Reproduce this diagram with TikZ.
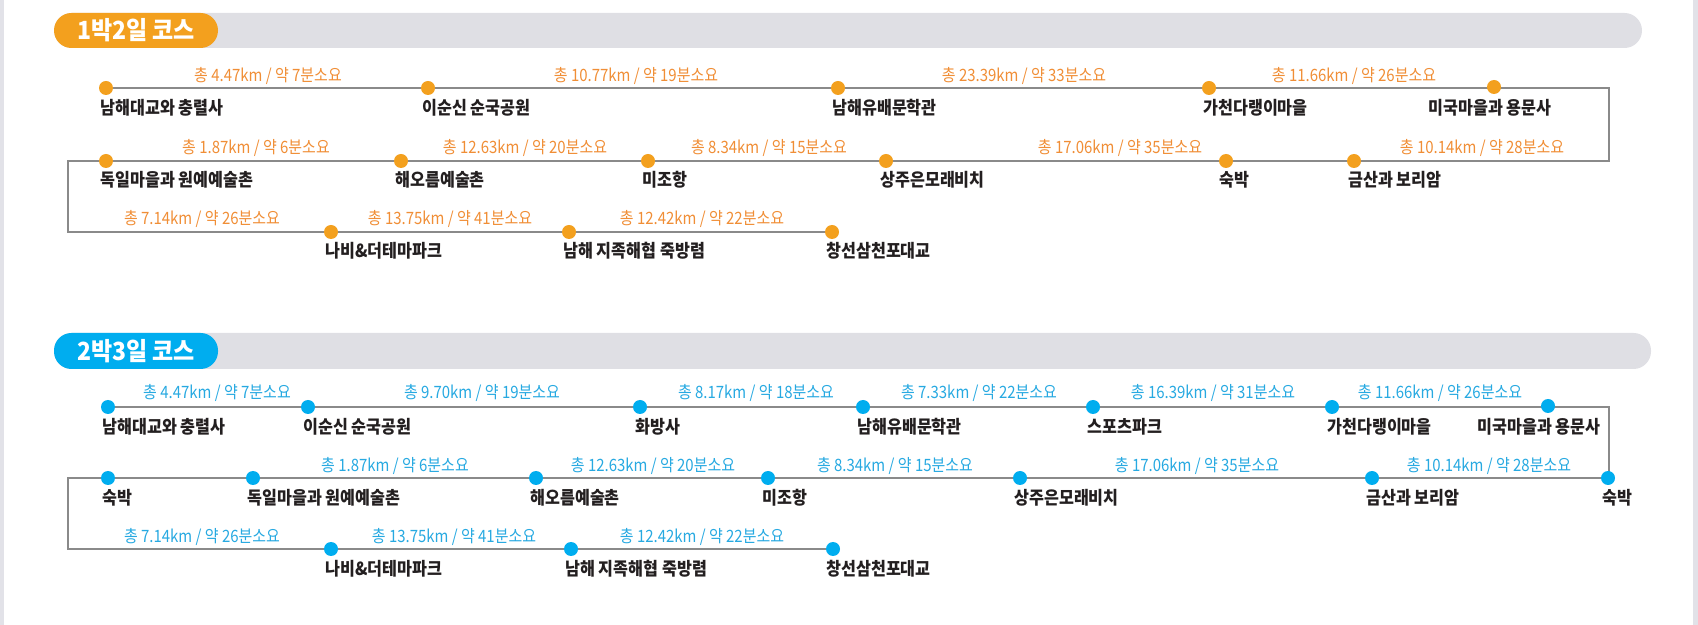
\documentclass[tikz,border=0pt]{standalone}
\usepackage{fontspec}
\newfontfamily\krn[FakeStretch=0.9]{Noto Sans CJK KR}
\newfontfamily\krl[FakeStretch=0.88]{Noto Sans CJK KR}
\newfontfamily\krh[FakeStretch=0.92]{Noto Sans CJK KR}
\usetikzlibrary{backgrounds}
\definecolor{ordot}{HTML}{F3A01E}
\definecolor{ortxt}{HTML}{F08E36}
\definecolor{bldot}{HTML}{00ADEF}
\definecolor{bltxt}{HTML}{27A9E1}
\definecolor{barg}{HTML}{DFDFE4}
\definecolor{lineg}{HTML}{8A8A8A}
\definecolor{namec}{HTML}{231F20}
\definecolor{stripg}{HTML}{E2E2E8}
\tikzset{
  dotA/.style={circle,fill=ordot,inner sep=0pt,minimum size=7pt},
  dotB/.style={circle,fill=bldot,inner sep=0pt,minimum size=7pt},
  nm/.style={inner sep=0pt,anchor=west,text=namec,font=\krn\bfseries\fontsize{9pt}{10pt}\selectfont},
  nmc/.style={nm,anchor=center},
  dlA/.style={inner sep=0pt,text=ortxt,font=\krl\fontsize{8.5pt}{10pt}\selectfont},
  dlB/.style={dlA,text=bltxt},
  conn/.style={draw=lineg,line width=1pt},
  pillA/.style={fill=ordot,rounded corners=8.75pt},
  pillB/.style={fill=bldot,rounded corners=8.75pt},
  bar/.style={fill=barg,rounded corners=8.75pt},
  ptxt/.style={inner sep=0pt,text=white,font=\krh\bfseries\fontsize{12.5pt}{14pt}\selectfont}
}
\begin{document}
\begin{tikzpicture}[x=0.5pt,y=-0.5pt]
\useasboundingbox (0,0) rectangle (1698,625);
\fill[stripg] (0,0) rectangle (3.5,625);
\fill[stripg] (1693,0) rectangle (1698,625);

% ===== Section 1 header =====
\path[bar] (54,13) rectangle (1642,48);
\path[pillA] (54,13) rectangle (218,48);
\node[ptxt] (h1) at (136,30.5) {1박2일 코스};

% ===== Section 1 dots =====
\node[dotA] (a1) at (106,88) {};
\node[dotA] (a2) at (428,88) {};
\node[dotA] (a3) at (838,88) {};
\node[dotA] (a4) at (1209,88) {};
\node[dotA] (a5) at (1494,87) {};
\coordinate (aR1) at (1609,88);
\coordinate (aR2) at (1609,161);
\node[dotA] (b1) at (106,161) {};
\node[dotA] (b2) at (401,161) {};
\node[dotA] (b3) at (648,161) {};
\node[dotA] (b4) at (886,161) {};
\node[dotA] (b5) at (1226,161) {};
\node[dotA] (b6) at (1354,161) {};
\coordinate (aL2) at (68,161);
\coordinate (aL3) at (68,232);
\node[dotA] (c1) at (331,232) {};
\node[dotA] (c2) at (569,232) {};
\node[dotA] (c3) at (832,232) {};

\begin{scope}[on background layer]
\draw[conn] (a1.center) -- (a2.center) -- (a3.center) -- (a4.center) -- (a5.center |- aR1) -- (aR1) -- (aR2)
  -- (b6.center) -- (b5.center) -- (b4.center) -- (b3.center) -- (b2.center) -- (b1.center) -- (aL2) -- (aL3)
  -- (c1.center) -- (c2.center) -- (c3.center);
\end{scope}

% distance labels s1
\node[dlA] (da1) at (268,76) {총 4.47km / 약 7분소요};
\node[dlA] (da2) at (636,76) {총 10.77km / 약 19분소요};
\node[dlA] (da3) at (1024,76) {총 23.39km / 약 33분소요};
\node[dlA] (da4) at (1354,76) {총 11.66km / 약 26분소요};
\node[dlA] (db1) at (256,148) {총 1.87km / 약 6분소요};
\node[dlA] (db2) at (525,148) {총 12.63km / 약 20분소요};
\node[dlA] (db3) at (769,148) {총 8.34km / 약 15분소요};
\node[dlA] (db4) at (1120,148) {총 17.06km / 약 35분소요};
\node[dlA] (db5) at (1482,148) {총 10.14km / 약 28분소요};
\node[dlA] (dc1) at (202,219) {총 7.14km / 약 26분소요};
\node[dlA] (dc2) at (450,219) {총 13.75km / 약 41분소요};
\node[dlA] (dc3) at (702,219) {총 12.42km / 약 22분소요};

% names s1
\node[nm] (na1) at (100,108) {남해대교와 충렬사};
\node[nm] (na2) at (422,108) {이순신 순국공원};
\node[nm] (na3) at (832,108) {남해유배문학관};
\node[nm] (na4) at (1203,108) {가천다랭이마을};
\node[nmc] (na5) at (1490,108) {미국마을과 용문사};
\node[nm] (nb1) at (100,180) {독일마을과 원예예술촌};
\node[nm] (nb2) at (395,180) {해오름예술촌};
\node[nm] (nb3) at (642,180) {미조항};
\node[nm] (nb4) at (880,180) {상주은모래비치};
\node[nm] (nb5) at (1219,180) {숙박};
\node[nm] (nb6) at (1348,180) {금산과 보리암};
\node[nm] (nc1) at (325,251) {나비\&더테마파크};
\node[nm] (nc2) at (563,251) {남해 지족해협 죽방렴};
\node[nm] (nc3) at (826,251) {창선삼천포대교};

% ===== Section 2 header =====
\path[bar] (54,333) rectangle (1651,369);
\path[pillB] (54,333) rectangle (218,369);
\node[ptxt] (h2) at (136,351) {2박3일 코스};

% ===== Section 2 dots =====
\node[dotB] (p1) at (108,407) {};
\node[dotB] (p2) at (308,407) {};
\node[dotB] (p3) at (640,407) {};
\node[dotB] (p4) at (863,407) {};
\node[dotB] (p5) at (1093,407) {};
\node[dotB] (p6) at (1332,407) {};
\node[dotB] (p7) at (1548,406) {};
\coordinate (pR1) at (1609,407);
\node[dotB] (q7) at (1608,478) {};
\node[dotB] (q6) at (1372,478) {};
\node[dotB] (q5) at (1020,478) {};
\node[dotB] (q4) at (768,478) {};
\node[dotB] (q3) at (536,478) {};
\node[dotB] (q2) at (253,478) {};
\node[dotB] (q1) at (108,478) {};
\coordinate (pL2) at (68,478);
\coordinate (pL3) at (68,549);
\node[dotB] (r1) at (331,549) {};
\node[dotB] (r2) at (571,549) {};
\node[dotB] (r3) at (833,549) {};

\begin{scope}[on background layer]
\draw[conn] (p1.center) -- (p2.center) -- (p3.center) -- (p4.center) -- (p5.center) -- (p6.center) -- (p7.center |- pR1) -- (pR1)
  -- (pR1 |- q7.center) -- (q6.center) -- (q5.center) -- (q4.center) -- (q3.center) -- (q2.center) -- (q1.center) -- (pL2) -- (pL3)
  -- (r1.center) -- (r2.center) -- (r3.center);
\end{scope}

% distance labels s2
\node[dlB] (dp1) at (217,393) {총 4.47km / 약 7분소요};
\node[dlB] (dp2) at (482,393) {총 9.70km / 약 19분소요};
\node[dlB] (dp3) at (756,393) {총 8.17km / 약 18분소요};
\node[dlB] (dp4) at (979,393) {총 7.33km / 약 22분소요};
\node[dlB] (dp5) at (1213,393) {총 16.39km / 약 31분소요};
\node[dlB] (dp6) at (1440,393) {총 11.66km / 약 26분소요};
\node[dlB] (dq2) at (395,466) {총 1.87km / 약 6분소요};
\node[dlB] (dq3) at (653,466) {총 12.63km / 약 20분소요};
\node[dlB] (dq4) at (895,466) {총 8.34km / 약 15분소요};
\node[dlB] (dq5) at (1197,466) {총 17.06km / 약 35분소요};
\node[dlB] (dq6) at (1489,466) {총 10.14km / 약 28분소요};
\node[dlB] (dr1) at (202,537) {총 7.14km / 약 26분소요};
\node[dlB] (dr2) at (454,537) {총 13.75km / 약 41분소요};
\node[dlB] (dr3) at (702,537) {총 12.42km / 약 22분소요};

% names s2
\node[nm] (np1) at (102,427) {남해대교와 충렬사};
\node[nm] (np2) at (303,427) {이순신 순국공원};
\node[nm] (np3) at (635,427) {화방사};
\node[nm] (np4) at (857,427) {남해유배문학관};
\node[nm] (np5) at (1087,427) {스포츠파크};
\node[nm] (np6) at (1327,427) {가천다랭이마을};
\node[nmc] (np7) at (1539,427) {미국마을과 용문사};
\node[nm] (nq1) at (102,498) {숙박};
\node[nm] (nq2) at (247,498) {독일마을과 원예예술촌};
\node[nm] (nq3) at (530,498) {해오름예술촌};
\node[nm] (nq4) at (762,498) {미조항};
\node[nm] (nq5) at (1014,498) {상주은모래비치};
\node[nm] (nq6) at (1366,498) {금산과 보리암};
\node[nmc] (nq7) at (1617,498) {숙박};
\node[nm] (nr1) at (325,569) {나비\&더테마파크};
\node[nm] (nr2) at (565,569) {남해 지족해협 죽방렴};
\node[nm] (nr3) at (826,569) {창선삼천포대교};
\end{tikzpicture}
\end{document}
